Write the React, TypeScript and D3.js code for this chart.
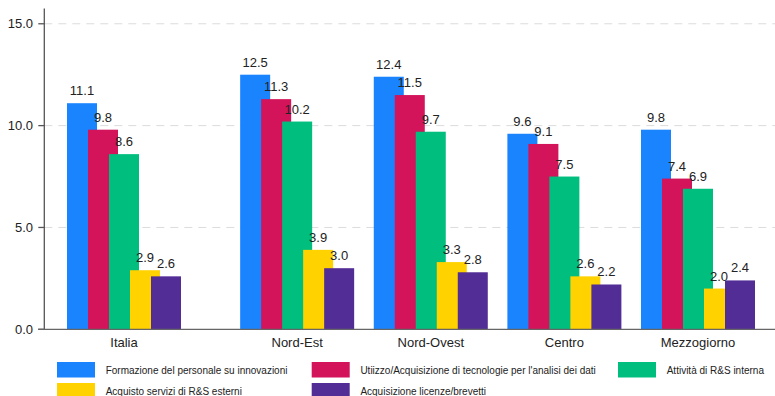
import React from "react";
import * as d3 from "d3";

// Regions shown along the x axis
const regions = ["Italia", "Nord-Est", "Nord-Ovest", "Centro", "Mezzogiorno"];

// Series names (legend order)
const seriesNames = [
  "Formazione del personale su innovazioni",
  "Utiizzo/Acquisizione di tecnologie per l'analisi dei dati",
  "Attività di R&S interna",
  "Acquisto servizi di R&S esterni",
  "Acquisizione licenze/brevetti",
];

// Values per series, one entry per region
const formazione = [11.1, 12.5, 12.4, 9.6, 9.8];
const tecnologieDati = [9.8, 11.3, 11.5, 9.1, 7.4];
const rsInterna = [8.6, 10.2, 9.7, 7.5, 6.9];
const rsEsterni = [2.9, 3.9, 3.3, 2.6, 2.0];
const licenze = [2.6, 3.0, 2.8, 2.2, 2.4];

const seriesValues = [formazione, tecnologieDati, rsInterna, rsEsterni, licenze];

const yTicks = [0, 5, 10, 15];

const colors = ["#1a84ff", "#d3135a", "#00bf7e", "#ffd200", "#532d96"];

const W = 775;
const H = 396;
const FONT = "'Liberation Sans', Arial, sans-serif";

export default function App() {
  const y = d3.scaleLinear().domain([0, 15.75]).range([329.3, 8.5]);

  // Group slots: Italia stands apart from the macro-areas
  const italiaGap = 0.296;
  const slot = (i: number) => i + (i > 0 ? italiaGap : 0);
  const x = d3
    .scaleLinear()
    .domain([0, slot(regions.length - 1)])
    .range([67, 641]);

  const barWidth = 30;
  const barStep = 21;
  const groupWidth = barStep * (seriesValues.length - 1) + barWidth;
  const barX = (gi: number, si: number) => x(slot(gi)) + si * barStep;

  const axisX = 44.3;

  const legendCols = [57, 311.7, 618];
  const legendRows = [362, 383];
  const legendPos = [
    [0, 0],
    [1, 0],
    [2, 0],
    [0, 1],
    [1, 1],
  ];

  return (
    <div style={{ position: "fixed", left: 0, top: 0, width: W, height: H, background: "#fff" }}>
      <svg width={W} height={H} style={{ display: "block" }} fontFamily={FONT}>
        <rect width={W} height={H} fill="#fff" />

        {/* gridlines */}
        {yTicks
          .filter((t) => t > 0)
          .map((t) => (
            <line
              key={"g" + t}
              x1={axisX}
              x2={W}
              y1={y(t)}
              y2={y(t)}
              stroke="#dcdcdc"
              strokeWidth={1}
              strokeDasharray="8,6"
            />
          ))}

        {/* bars */}
        {seriesValues.map((vals, si) =>
          vals.map((v, gi) => (
            <rect
              key={`b${si}-${gi}`}
              x={barX(gi, si)}
              y={y(v)}
              width={barWidth}
              height={y(0) - y(v)}
              fill={colors[si]}
            />
          ))
        )}

        {/* value labels */}
        {seriesValues.map((vals, si) =>
          vals.map((v, gi) => (
            <text
              key={`l${si}-${gi}`}
              x={barX(gi, si) + barWidth / 2}
              y={y(v) - 8}
              textAnchor="middle"
              fontSize={13}
              fill="#222"
            >
              {v.toFixed(1)}
            </text>
          ))
        )}

        {/* y axis */}
        <line x1={axisX} x2={axisX} y1={y(15.75)} y2={y(0)} stroke="#555" strokeWidth={1.3} />
        {yTicks.map((t) => (
          <g key={"t" + t}>
            <line x1={axisX - 6} x2={axisX} y1={y(t)} y2={y(t)} stroke="#555" strokeWidth={1.3} />
            <text
              x={33}
              y={y(t)}
              dy="0.35em"
              textAnchor="end"
              fontSize={13}
              fill="#222"
            >
              {t.toFixed(1)}
            </text>
          </g>
        ))}

        {/* x axis baseline */}
        <line x1={38} x2={W} y1={y(0)} y2={y(0)} stroke="#666" strokeWidth={1.3} />
        {regions.map((r, gi) => (
          <text
            key={"x" + r}
            x={x(slot(gi)) + groupWidth / 2}
            y={342.5}
            dy="0.35em"
            textAnchor="middle"
            fontSize={13}
            fill="#222"
          >
            {r}
          </text>
        ))}

        {/* legend */}
        {seriesNames.map((name, si) => {
          const [c, r] = legendPos[si];
          const lx = legendCols[c];
          const ly = legendRows[r];
          return (
            <g key={"lg" + si}>
              <rect x={lx} y={ly} width={38} height={15.5} fill={colors[si]} />
              <text x={lx + 48.7} y={ly + 8.5} dy="0.35em" fontSize={10} fill="#222">
                {name}
              </text>
            </g>
          );
        })}
      </svg>
    </div>
  );
}
